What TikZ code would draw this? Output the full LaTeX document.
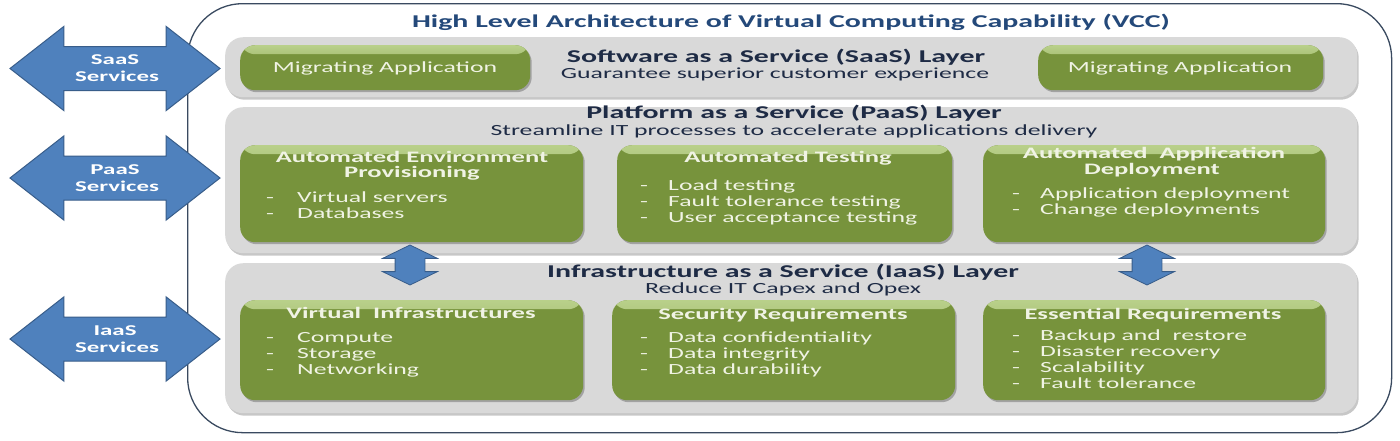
\documentclass[tikz,border=0pt]{standalone}
\usepackage{fontspec}
\setmainfont{Carlito}[FakeStretch=1.66]
\usetikzlibrary{shapes.arrows,shadows}
\definecolor{arrowblue}{HTML}{4F81BD}
\definecolor{arrowedge}{HTML}{385D8A}
\definecolor{layergray}{HTML}{D9D9D9}
\definecolor{boxgreen}{HTML}{77933C}
\definecolor{boxlight}{HTML}{B9D08A}
\definecolor{boxtext}{HTML}{F0F3E4}
\definecolor{titleblue}{HTML}{24497A}
\definecolor{layertext}{HTML}{1E2B45}
\definecolor{framecol}{HTML}{3A4A60}
\newcommand{\arrowtext}[2]{\parbox[c][27pt][c]{80pt}{\centering #1\\#2}}
\begin{document}
\begin{tikzpicture}[x=1pt,y=-1pt,
  frame/.style={draw=framecol, line width=1.3pt, rounded corners=55pt, anchor=north west, inner sep=0pt},
  layer/.style={fill=layergray, rounded corners=18pt, anchor=north west, inner sep=0pt,
    drop shadow={shadow xshift=1.5pt, shadow yshift=-2.5pt, fill=black, opacity=0.22}},
  gbox/.style={fill=boxgreen, rounded corners=15pt, anchor=north west, inner sep=0pt,
    drop shadow={shadow xshift=1.5pt, shadow yshift=-2pt, fill=black, opacity=0.25},
    path picture={\shade[top color=boxlight, bottom color=boxgreen]
      (path picture bounding box.north west) rectangle ([yshift=-9pt]path picture bounding box.north east);}},
  bigarrow/.style={double arrow, double arrow head extend=20pt, double arrow tip angle=76,
    minimum height=210pt, fill=arrowblue, draw=arrowedge, line width=1pt,
    inner xsep=1pt, inner ysep=8pt, text=white, font=\bfseries\fontsize{15}{17}\selectfont},
  smallarrow/.style={double arrow, double arrow head extend=12.5pt, double arrow tip angle=128,
    minimum height=40pt, fill=arrowblue, draw=arrowedge, line width=0.8pt,
    rotate=90, inner xsep=0pt, inner ysep=14.5pt},
  maintitle/.style={anchor=base, inner sep=0pt, text=titleblue, font=\bfseries\fontsize{18}{20}\selectfont},
  ltitle/.style={anchor=base, inner sep=0pt, text=layertext, font=\bfseries\fontsize{18}{20}\selectfont},
  lsub/.style={anchor=base, inner sep=0pt, text=layertext, font=\fontsize{15.5}{18}\selectfont},
  bhead/.style={anchor=base, inner sep=0pt, text=boxtext, font=\bfseries\fontsize{16}{18}\selectfont},
  bplain/.style={anchor=base, inner sep=0pt, text=boxtext, font=\fontsize{15.5}{18}\selectfont},
  bitem/.style={anchor=base west, inner sep=0pt, text=boxtext, font=\fontsize{15.5}{18}\selectfont},
]
\useasboundingbox (0,0) rectangle (1400,440);
\fill[white] (0,0) rectangle (1400,440);

% outer frame
\node[frame, minimum width=1204pt, minimum height=429pt] (frame) at (187,3) {};
\node[maintitle] (title) at (791,27) {High Level Architecture of Virtual Computing Capability (VCC)};

% layers
\node[layer, minimum width=1132pt, minimum height=60pt] (saas) at (225,37) {};
\node[layer, minimum width=1132pt, minimum height=146pt] (paas) at (225,107) {};
\node[layer, minimum width=1132pt, minimum height=150pt] (iaas) at (225,263) {};

% SaaS layer
\node[gbox, minimum width=290pt, minimum height=45pt] (saasL) at (240,45) {};
\node[gbox, minimum width=285pt, minimum height=45pt] (saasR) at (1038,45) {};
\node[bplain] (saasLt) at (385,72) {Migrating Application};
\node[bplain] (saasRt) at (1180,72) {Migrating Application};
\node[ltitle] (saasT) at (776,62) {Software as a Service (SaaS) Layer};
\node[lsub] (saasS) at (775,78) {Guarantee superior customer experience};

% PaaS layer
\node[ltitle] (paasT) at (794,118) {Platform as a Service (PaaS) Layer};
\node[lsub] (paasS) at (794,135) {Streamline IT processes to accelerate applications delivery};
\node[gbox, minimum width=343pt, minimum height=97pt] (paasL) at (240,145) {};
\node[gbox, minimum width=335pt, minimum height=97pt] (paasM) at (617,145) {};
\node[gbox, minimum width=342pt, minimum height=97pt] (paasR) at (983,145) {};
\node[bhead] (paasLh1) at (412,162) {Automated Environment};
\node[bhead] (paasLh2) at (412,177) {Provisioning};
\node[bitem] (paasL1) at (266,202) {\makebox[31pt][l]{-}Virtual servers};
\node[bitem] (paasL2) at (266,218) {\makebox[31pt][l]{-}Databases};
\node[bhead] (paasMh) at (788,162) {Automated Testing};
\node[bitem] (paasM1) at (640,190) {\makebox[28pt][l]{-}Load testing};
\node[bitem] (paasM2) at (640,206) {\makebox[28pt][l]{-}Fault tolerance testing};
\node[bitem] (paasM3) at (640,222) {\makebox[28pt][l]{-}User acceptance testing};
\node[bhead] (paasRh1) at (1154,158) {Automated\ \ Application};
\node[bhead] (paasRh2) at (1152,174) {Deployment};
\node[bitem] (paasR1) at (1012,198) {\makebox[28pt][l]{-}Application deployment};
\node[bitem] (paasR2) at (1012,214) {\makebox[28pt][l]{-}Change deployments};

% IaaS layer
\node[ltitle] (iaasT) at (783,277) {Infrastructure as a Service (IaaS) Layer};
\node[lsub] (iaasS) at (783,293) {Reduce IT Capex and Opex};
\node[gbox, minimum width=343pt, minimum height=100pt] (iaasL) at (240,300) {};
\node[gbox, minimum width=343pt, minimum height=100pt] (iaasM) at (612,300) {};
\node[gbox, minimum width=342pt, minimum height=100pt] (iaasR) at (983,300) {};
\node[bhead] (iaasLh) at (411,318) {Virtual\ \ Infrastructures};
\node[bitem] (iaasL1) at (266,342) {\makebox[31pt][l]{-}Compute};
\node[bitem] (iaasL2) at (266,358) {\makebox[31pt][l]{-}Storage};
\node[bitem] (iaasL3) at (266,374) {\makebox[31pt][l]{-}Networking};
\node[bhead] (iaasMh) at (783,319) {Security Requirements};
\node[bitem] (iaasM1) at (640,342) {\makebox[28pt][l]{-}Data confidentiality};
\node[bitem] (iaasM2) at (640,358) {\makebox[28pt][l]{-}Data integrity};
\node[bitem] (iaasM3) at (640,374) {\makebox[28pt][l]{-}Data durability};
\node[bhead] (iaasRh) at (1153,319) {Essential Requirements};
\node[bitem] (iaasR1) at (1012,340) {\makebox[28pt][l]{-}Backup and\ \ restore};
\node[bitem] (iaasR2) at (1012,356) {\makebox[28pt][l]{-}Disaster recovery};
\node[bitem] (iaasR3) at (1012,372) {\makebox[28pt][l]{-}Scalability};
\node[bitem] (iaasR4) at (1012,388) {\makebox[28pt][l]{-}Fault tolerance};

% small vertical double arrows between PaaS and IaaS
\node[smallarrow] (vL) at (410,265) {};
\node[smallarrow] (vR) at (1147,265) {};

% service arrows
\node[bigarrow] (saasA) at (115,68.5) {\arrowtext{SaaS}{Services}};
\node[bigarrow] (paasA) at (115,178) {\arrowtext{PaaS}{Services}};
\node[bigarrow] (iaasA) at (115,339) {\arrowtext{IaaS}{Services}};
\end{tikzpicture}
\end{document}
